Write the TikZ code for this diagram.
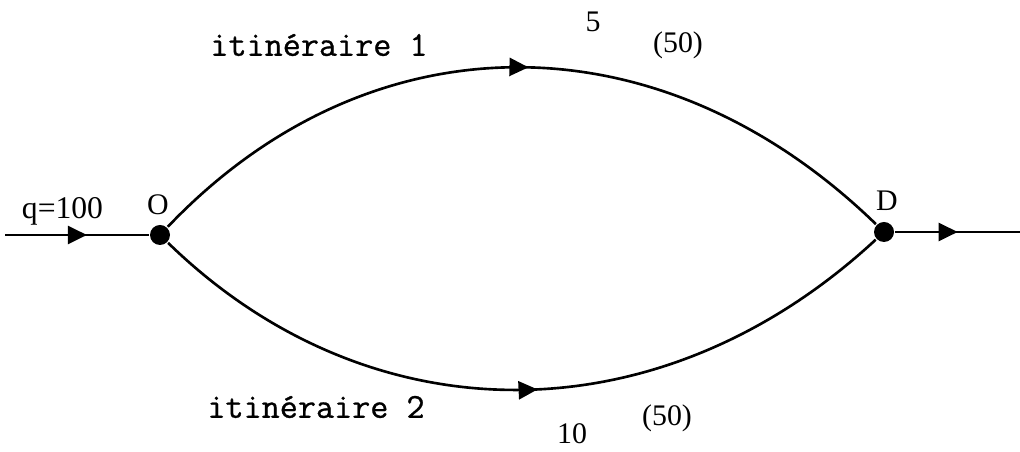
\documentclass[tikz,border=0pt]{standalone}
\usepackage{fontspec}
\setmainfont{Liberation Serif}
\newfontfamily\routefont{Latin Modern Mono}[FakeBold=0.8]
\usepackage{tikz}
\usetikzlibrary{arrows.meta, positioning, calc, decorations.markings}

\tikzset{
  junction/.style={circle, fill=black, inner sep=0pt, minimum size=0.4cm},
  flowarrow/.style={postaction={decorate}, decoration={markings,
    mark=at position #1 with {\arrow{Triangle[length=0.38cm, width=0.36cm]}}}},
  routelab/.style={font=\routefont\fontsize{20}{20}\selectfont},
  numlab/.style={font=\fontsize{17}{17}\selectfont}
}

\begin{document}
\begin{tikzpicture}[line width=1.5pt]
  \useasboundingbox (0, 0) rectangle (20.4, 9.04);

  % Origin and destination
  \node[junction] (orig) at (3.2, 4.34) {};
  \node[junction] (dest) at (17.68, 4.40) {};
  \node[numlab] (origlab) at (3.16, 4.94) {O};
  \node[numlab] (destlab) at (17.74, 5.02) {D};

  % Incoming and outgoing flow
  \coordinate (inflow) at (0.1, 4.34);
  \coordinate (outflow) at (20.4, 4.40);
  \draw[flowarrow=0.57] (inflow) -- (orig);
  \draw[flowarrow=0.5] (dest) -- (outflow);
  \node[font=\fontsize{18}{18}\selectfont] (demand) at (1.25, 4.82) {q=100};

  % Two routes
  \draw[flowarrow=0.51] (orig) .. controls (7.4, 8.75) and (13.2, 8.75) .. (dest);
  \draw[flowarrow=0.52] (orig) .. controls (7.4, 0.25) and (13.2, 0.25) .. (dest);

  % Route labels
  \node[routelab] (route1) at (6.38, 8.14) {itinéraire 1};
  \node[numlab] (cost1) at (11.86, 8.6) {5};
  \node[numlab] (flow1) at (13.56, 8.14) {(50)};

  \node[routelab] (route2) at (6.32, 0.9) {itinéraire 2};
  \node[numlab] (cost2) at (11.44, 0.36) {10};
  \node[numlab] (flow2) at (13.34, 0.68) {(50)};
\end{tikzpicture}
\end{document}
